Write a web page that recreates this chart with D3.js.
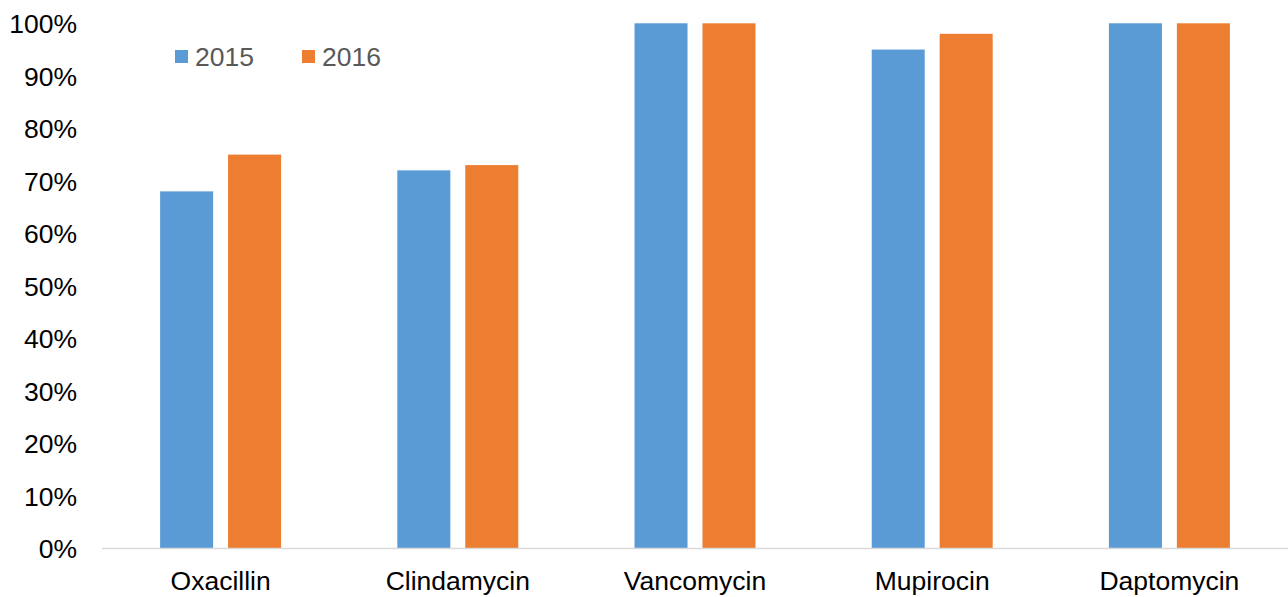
<!DOCTYPE html>
<html>
<head>
<meta charset="utf-8">
<script src="https://cdn.jsdelivr.net/npm/d3@7"></script>
<style>
  html, body { margin: 0; padding: 0; background: #fff; }
  svg { display: block; font-family: "Liberation Sans", Arial, sans-serif; }
</style>
</head>
<body>
<svg id="chart" width="1288" height="597"></svg>
<script>
// Susceptibility rates by antibiotic, two years
const categories = ["Oxacillin", "Clindamycin", "Vancomycin", "Mupirocin", "Daptomycin"];
const seriesNames = ["2015", "2016"];
const values2015 = [0.68, 0.72, 1.00, 0.95, 1.00];
const values2016 = [0.75, 0.73, 1.00, 0.98, 1.00];
const yTicks = [0, 0.1, 0.2, 0.3, 0.4, 0.5, 0.6, 0.7, 0.8, 0.9, 1.0];
const colors = ["#5B9BD5", "#ED7D31"];

const svg = d3.select("#chart");
const plot = { left: 102, right: 1288, top: 23.3, bottom: 548.5 };
const fontSize = 26.5;

const x = d3.scaleBand().domain(categories).range([plot.left, plot.right]).paddingInner(0).paddingOuter(0);
const y = d3.scaleLinear().domain([0, 1]).range([plot.bottom, plot.top]);

// bar geometry within each category band
const barW = x.bandwidth() * 0.2235;
const gap = x.bandwidth() * 0.063;
const offsets = [-(gap / 2 + barW), gap / 2];

const rows = categories.map((c, i) => ({ cat: c, vals: [values2015[i], values2016[i]] }));

const groups = svg.append("g").selectAll("g").data(rows).join("g")
  .attr("transform", d => `translate(${x(d.cat) + x.bandwidth() / 2},0)`);

groups.selectAll("rect").data(d => d.vals.map((v, s) => ({ v, s }))).join("rect")
  .attr("x", d => offsets[d.s])
  .attr("width", barW)
  .attr("y", d => y(d.v))
  .attr("height", d => y(0) - y(d.v))
  .attr("fill", d => colors[d.s]);

// baseline
svg.append("line")
  .attr("x1", plot.left).attr("x2", plot.right)
  .attr("y1", y(0)).attr("y2", y(0))
  .attr("stroke", "#D9D9D9").attr("stroke-width", 1.5);

// y-axis labels
const yAxis = d3.axisLeft(y).tickValues(yTicks).tickFormat(d3.format(".0%")).tickSize(0).tickPadding(0);
const yg = svg.append("g").attr("transform", "translate(77,0)").call(yAxis);
yg.select(".domain").remove();
yg.selectAll("text")
  .attr("font-size", fontSize).attr("fill", "#000").attr("font-family", "Liberation Sans, Arial, sans-serif")
  .attr("dy", "0.35em");

// x-axis labels
const xAxis = d3.axisBottom(x).tickSize(0).tickPadding(0);
const xg = svg.append("g").attr("transform", `translate(0,${y(0)})`).call(xAxis);
xg.select(".domain").remove();
xg.selectAll("text")
  .attr("font-size", fontSize).attr("fill", "#000").attr("font-family", "Liberation Sans, Arial, sans-serif")
  .attr("dy", null).attr("y", 41);

// legend
const legend = svg.append("g");
const legendX = [175, 302];
seriesNames.forEach((name, i) => {
  legend.append("rect").attr("x", legendX[i]).attr("y", 50).attr("width", 13).attr("height", 13).attr("fill", colors[i]);
  legend.append("text").attr("x", legendX[i] + 20).attr("y", 65.5)
    .attr("font-size", fontSize).attr("fill", "#595959").text(name);
});
</script>
</body>
</html>
